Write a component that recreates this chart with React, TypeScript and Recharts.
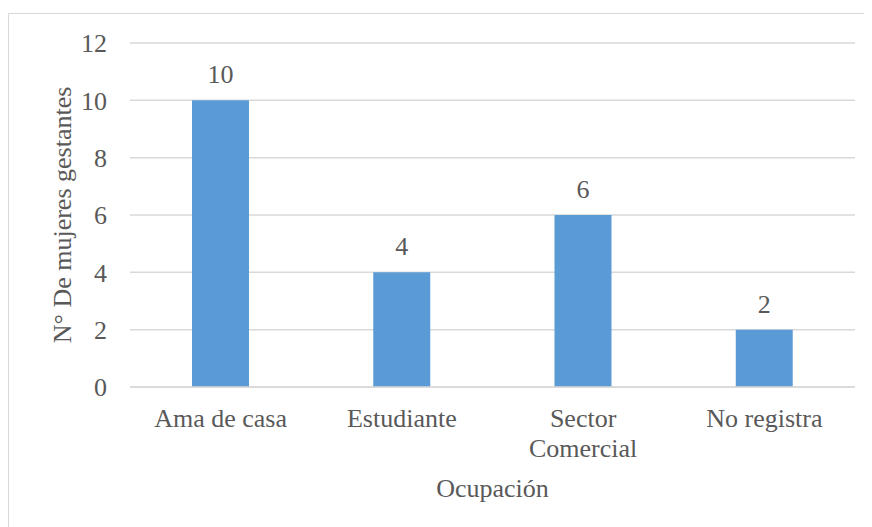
import React from 'react';
import { BarChart, Bar, XAxis, YAxis, CartesianGrid, LabelList, Label } from 'recharts';

const categories = ['Ama de casa', 'Estudiante', 'Sector Comercial', 'No registra'];
const counts = [10, 4, 6, 2];
const yTicks = [0, 2, 4, 6, 8, 10, 12];

const data = categories.map((name, i) => ({ name, value: counts[i] }));

const FONT = "'Liberation Serif', 'Times New Roman', serif";
const TEXT = '#595959';
const GRID = '#d9d9d9';
const textStyle = { fontFamily: FONT, fontSize: 26, fill: TEXT };

// splits "Sector Comercial" in two lines like the original
const wrap = (s: string) => (s === 'Sector Comercial' ? ['Sector', 'Comercial'] : [s]);

const CategoryTick = (props: any) => {
  const { x, y, payload } = props;
  const lines = wrap(payload.value);
  return (
    <text x={x} y={y + 40} textAnchor="middle" style={textStyle}>
      {lines.map((l, i) => (
        <tspan key={l} x={x} dy={i === 0 ? 0 : 30}>
          {l}
        </tspan>
      ))}
    </text>
  );
};

const YTitle = (props: any) => {
  const vb = props.viewBox || {};
  const cx = (vb.x || 0) + 53;
  const cy = (vb.y || 0) + (vb.height || 0) / 2;
  return (
    <text
      x={cx}
      y={cy}
      transform={`rotate(-90 ${cx} ${cy})`}
      textAnchor="middle"
      dominantBaseline="central"
      style={textStyle}
    >
      N° De mujeres gestantes
    </text>
  );
};

const XTitle = (props: any) => {
  const vb = props.viewBox || {};
  const cx = (vb.x || 0) + (vb.width || 0) / 2;
  const by = (vb.y || 0) + 110;
  return (
    <text x={cx} y={by} textAnchor="middle" style={textStyle}>
      Ocupación
    </text>
  );
};

export default function App() {
  return (
    <div
      style={{
        marginTop: 5,
        width: 863,
        height: 513,
        borderTop: `1px solid ${GRID}`,
        borderLeft: `1px solid ${GRID}`,
        background: '#fff',
        fontFamily: FONT,
      }}
    >
      <BarChart
        width={863}
        height={513}
        data={data}
        margin={{ top: 29, right: 17, left: 0, bottom: 0 }}
        style={{ fontFamily: FONT }}
      >
        <CartesianGrid vertical={false} stroke={GRID} strokeWidth={1.5} />
        <XAxis
          dataKey="name"
          height={140}
          tickSize={0}
          tickMargin={0}
          tickLine={false}
          axisLine={{ stroke: GRID, strokeWidth: 1.5 }}
          tick={<CategoryTick />}
          interval={0}
        >
          <Label content={<XTitle />} />
        </XAxis>
        <YAxis
          width={121}
          domain={[0, 12]}
          ticks={yTicks}
          tickSize={0}
          tickMargin={23}
          tickLine={false}
          axisLine={false}
          tick={{ fill: TEXT, fontSize: 26, style: { fontFamily: FONT } }}
        >
          <Label content={<YTitle />} />
        </YAxis>
        <Bar dataKey="value" fill="#5b9bd5" barSize={57} isAnimationActive={false}>
          <LabelList
            dataKey="value"
            position="top"
            offset={17}
            fill={TEXT}
            fontSize={26}
            style={{ fontFamily: FONT }}
          />
        </Bar>
      </BarChart>
    </div>
  );
}
